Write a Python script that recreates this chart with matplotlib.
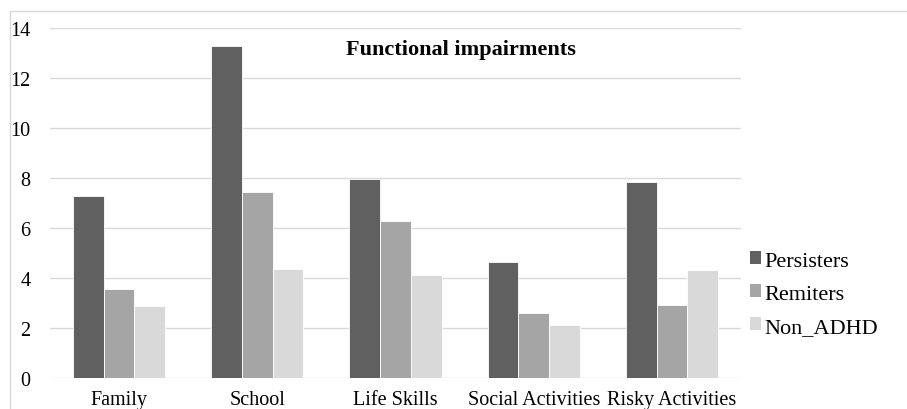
import matplotlib
matplotlib.use("Agg")
import matplotlib.pyplot as plt
import numpy as np
from matplotlib.patches import Rectangle, Patch

categories = ["Family", "School", "Life Skills", "Social Activities", "Risky Activities"]
persisters = [7.3, 13.3, 7.95, 4.65, 7.83]
remiters = [3.56, 7.43, 6.28, 2.59, 2.93]
non_adhd = [2.88, 4.36, 4.13, 2.12, 4.31]
series_names = ["Persisters", "Remiters", "Non_ADHD"]
colors = ["#606060", "#a5a5a5", "#d9d9d9"]

plt.rcParams["font.family"] = ["Liberation Serif", "DejaVu Serif"]

fig = plt.figure(figsize=(9.07, 4.10), dpi=100)
ax = fig.add_axes([50 / 907, 1 - 379 / 410, 691 / 907, 350 / 410])

x = np.arange(len(categories))
width = 0.222
for i, (vals, name, c) in enumerate(zip([persisters, remiters, non_adhd], series_names, colors)):
    ax.bar(x + (i - 1) * width, vals, width, color=c, edgecolor="white", linewidth=0.6,
           label=name, zorder=3)

ax.set_xlim(-0.5, len(categories) - 0.5)
ax.set_ylim(0, 14)
ax.set_yticks(np.arange(0, 15, 2))
ax.set_xticks(x)
ax.set_xticklabels(categories)
ax.grid(axis="y", color="#d9d9d9", linewidth=1.0, zorder=0)
for s in ax.spines.values():
    s.set_visible(False)
ax.tick_params(axis="both", length=0, labelsize=14.5, colors="black")
ax.tick_params(axis="y", pad=14)
ax.tick_params(axis="x", pad=8.5)

fig.text(461 / 907, 1 - 50 / 410, "Functional impairments", ha="center", va="center",
         fontsize=16, fontweight="bold")

handles = [Patch(facecolor=c, edgecolor="none") for c in colors]
fig.legend(handles, series_names, loc="center left", bbox_to_anchor=(739 / 907, 1 - 295 / 410),
           frameon=False, fontsize=16, handlelength=0.5, handleheight=0.5,
           handletextpad=0.15, labelspacing=0.62, borderpad=0)

# outer chart frame
fig.patches.append(Rectangle((10 / 907, -0.1), 1.0, 1 - 12 / 410 + 0.1, transform=fig.transFigure,
                             fill=False, edgecolor="#d9d9d9", linewidth=1.0))

fig.savefig("out.png", dpi=100)
